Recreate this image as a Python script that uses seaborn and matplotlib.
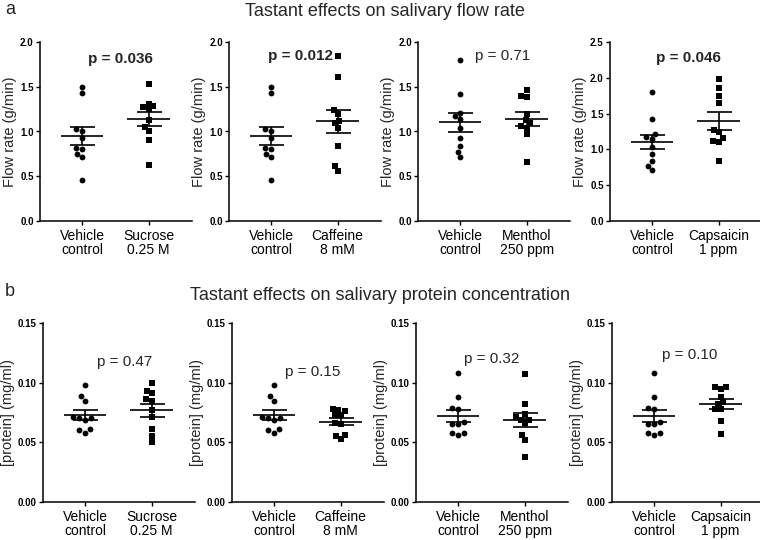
import numpy as np
import pandas as pd
import matplotlib
matplotlib.use("Agg")
import matplotlib.pyplot as plt
import seaborn as sns

sns.set_style("ticks")
plt.rcParams['font.family'] = ['Liberation Sans', 'DejaVu Sans']

# values (n = 10 per group)
vehicle_flow_1 = [1.50, 1.43, 1.03, 1.01, 0.93, 0.81, 0.82, 0.75, 0.71, 0.46]
sucrose_flow = [1.53, 1.28, 1.25, 1.27, 1.31, 1.13, 1.05, 1.01, 0.90, 0.63]
caffeine_flow = [1.84, 1.61, 1.24, 1.20, 1.12, 1.09, 1.04, 0.84, 0.61, 0.56]
vehicle_flow_2 = [1.80, 1.42, 1.21, 1.17, 1.14, 1.04, 0.93, 0.84, 0.77, 0.71]
menthol_flow = [1.46, 1.39, 1.40, 1.20, 1.13, 1.09, 1.04, 1.06, 0.97, 0.66]
capsaicin_flow = [1.98, 1.86, 1.75, 1.65, 1.24, 1.27, 1.12, 1.11, 1.16, 0.84]

vehicle_prot_1 = [0.098, 0.089, 0.085, 0.071, 0.070, 0.069, 0.070, 0.061, 0.058, 0.060]
sucrose_prot = [0.100, 0.093, 0.091, 0.086, 0.085, 0.077, 0.071, 0.061, 0.055, 0.050]
caffeine_prot = [0.077, 0.076, 0.078, 0.073, 0.073, 0.066, 0.065, 0.056, 0.053, 0.055]
vehicle_prot_2 = [0.108, 0.088, 0.078, 0.079, 0.065, 0.065, 0.067, 0.058, 0.056, 0.058]
menthol_prot = [0.107, 0.082, 0.074, 0.069, 0.066, 0.069, 0.071, 0.056, 0.052, 0.038]
capsaicin_prot = [0.096, 0.095, 0.096, 0.088, 0.084, 0.082, 0.078, 0.078, 0.068, 0.057]

treatments = ["Sucrose\n0.25 M", "Caffeine\n8 mM", "Menthol\n250 ppm", "Capsaicin\n1 ppm"]
vehicle_label = "Vehicle\ncontrol"
flow_pvals = ["p = 0.036", "p = 0.012", "p = 0.71", "p = 0.046"]
flow_sig = [True, True, False, True]
prot_pvals = ["p = 0.47", "p = 0.15", "p = 0.32", "p = 0.10"]

flow_sets = [(vehicle_flow_1, sucrose_flow), (vehicle_flow_1, caffeine_flow),
             (vehicle_flow_2, menthol_flow), (vehicle_flow_2, capsaicin_flow)]
prot_sets = [(vehicle_prot_1, sucrose_prot), (vehicle_prot_1, caffeine_prot),
             (vehicle_prot_2, menthol_prot), (vehicle_prot_2, capsaicin_prot)]
flow_ymax = [2.0, 2.0, 2.0, 2.5]
flow_ptext_y = [1.81, 1.84, 1.84, 2.28]
flow_ptext_x = [0.57, 0.45, 0.64, 0.54]
prot_ptext_y = [0.117, 0.109, 0.120, 0.1235]
prot_ptext_x = [0.60, 0.58, 0.50, 0.54]

fig = plt.figure(figsize=(7.6, 5.4), dpi=100)
W, H = 760, 540
AXW = 152


def add_ax(left, top, width=AXW, height=179):
    return fig.add_axes([left / W, 1 - (top + height) / H, width / W, height / H])


def draw_panel(ax, veh, trt, trt_label, ymax, step, fmt, ylabel, label_px):
    order = [vehicle_label, trt_label]
    df = pd.DataFrame({"group": [vehicle_label] * len(veh) + [trt_label] * len(trt),
                       "value": veh + trt})
    sns.swarmplot(data=df[df.group == vehicle_label], x="group", y="value", order=order,
                  color="black", marker="o", size=4.2, ax=ax)
    sns.swarmplot(data=df[df.group == trt_label], x="group", y="value", order=order,
                  color="black", marker="s", size=3.8, ax=ax)
    stats = df.groupby("group", sort=False)["value"].agg(["mean", "sem"]).reindex(order)
    for i, (m, s) in enumerate(zip(stats["mean"], stats["sem"])):
        ax.hlines(m, i - 0.32, i + 0.32, color="black", lw=1.2, zorder=4)
        ax.errorbar(i, m, yerr=s, color="black", lw=1.2, capsize=9, capthick=1.2, zorder=4)
    ax.set_xlim(-0.63, 1.65)
    ax.set_ylim(0, ymax)
    ticks = np.arange(0, ymax + step / 2, step)
    ax.set_yticks(ticks)
    ax.set_yticklabels([fmt.format(t) for t in ticks], fontsize=7, fontweight="bold")
    ax.set_xticks([0, 1])
    ax.set_xticklabels(order, fontsize=10, linespacing=1.0)
    ax.set_xlabel("")
    ax.set_ylabel(ylabel, fontsize=10.5)
    ax.yaxis.set_label_coords(label_px / AXW, 0.5)
    ax.tick_params(axis="both", direction="out", length=3, width=1, colors="black")
    ax.tick_params(axis="y", pad=1.5)
    ax.tick_params(axis="x", pad=3)
    for sp in ["top", "right"]:
        ax.spines[sp].set_visible(False)
    for sp in ["left", "bottom"]:
        ax.spines[sp].set_linewidth(1.1)
        ax.spines[sp].set_color("black")


lefts_a = [40, 229, 418, 610]
lefts_b = [43, 232, 416, 612]

for i in range(4):
    ax = add_ax(lefts_a[i], 42)
    draw_panel(ax, flow_sets[i][0], flow_sets[i][1], treatments[i], flow_ymax[i], 0.5,
               "{:.1f}", "Flow rate (g/min)", -23)
    ax.text(flow_ptext_x[i], flow_ptext_y[i], flow_pvals[i], ha="center", va="center",
            fontsize=11, fontweight="bold" if flow_sig[i] else "normal")

for i in range(4):
    ax = add_ax(lefts_b[i], 323)
    draw_panel(ax, prot_sets[i][0], prot_sets[i][1], treatments[i], 0.15, 0.05,
               "{:.2f}", "[protein] (mg/ml)", -28)
    ax.text(prot_ptext_x[i], prot_ptext_y[i], prot_pvals[i], ha="center", va="center",
            fontsize=11)

fig.text(385 / W, 1 - 12 / H, "Tastant effects on salivary flow rate", ha="center",
         va="center", fontsize=13)
fig.text(380 / W, 1 - 296 / H, "Tastant effects on salivary protein concentration",
         ha="center", va="center", fontsize=13)
fig.text(5 / W, 1 - 9 / H, "a", ha="left", va="center", fontsize=13)
fig.text(5 / W, 1 - 292 / H, "b", ha="left", va="center", fontsize=13)

fig.savefig("out.png", dpi=100)
